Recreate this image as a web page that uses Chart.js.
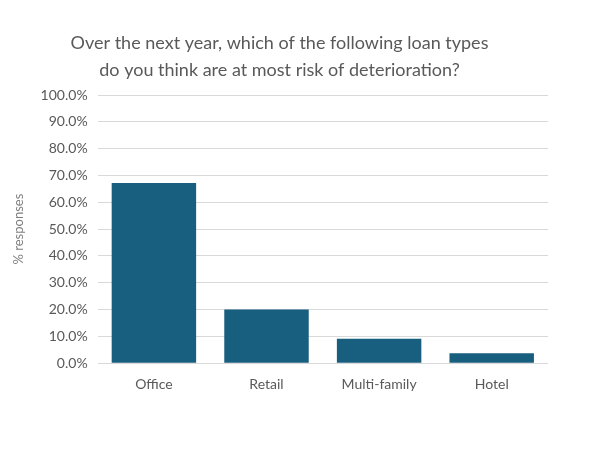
<!DOCTYPE html>
<html>
<head>
<meta charset="utf-8">
<script src="https://cdn.jsdelivr.net/npm/chart.js@4"></script>
<style>
  html, body { margin: 0; padding: 0; background: #fff; }
  #wrap { width: 600px; height: 450px; }
</style>
</head>
<body>
<div id="wrap"><canvas id="chart" width="600" height="450"></canvas></div>
<script>
const loanTypes = ['Office', 'Retail', 'Multi-family', 'Hotel'];
const responsePct = [67.2, 20.0, 9.1, 3.7];
const chartTitle = ['Over the next year, which of the following loan types', 'do you think are at most risk of deterioration?'];

const ctx = document.getElementById('chart').getContext('2d');
const chart = new Chart(ctx, {
  type: 'bar',
  data: {
    labels: loanTypes,
    datasets: [{
      label: '% responses',
      data: responsePct,
      backgroundColor: '#175e7f',
      borderWidth: 0,
      categoryPercentage: 1.0,
      barPercentage: 0.75
    }]
  },
  options: {
    responsive: false,
    animation: false,
    layout: { padding: { top: 30, right: 52, bottom: 52, left: 11 } },
    plugins: {
      legend: { display: false },
      tooltip: { enabled: false },
      title: {
        display: true,
        text: chartTitle,
        color: '#595959',
        font: { family: 'Lato', size: 18, weight: 'normal', lineHeight: 1.5 },
        padding: { top: 0, bottom: 11 }
      }
    },
    scales: {
      x: {
        grid: { display: false },
        border: { display: false },
        ticks: { color: '#595959', font: { family: 'Lato', size: 14 }, padding: 5 }
      },
      y: {
        min: 0,
        max: 100,
        ticks: {
          stepSize: 10,
          color: '#595959',
          font: { family: 'Lato', size: 14 },
          padding: 10,
          callback: v => v.toFixed(1) + '%'
        },
        grid: { color: '#d9d9d9', lineWidth: 1, drawTicks: false },
        border: { display: false },
        title: {
          display: true,
          text: '% responses',
          color: '#7f7f7f',
          font: { family: 'Lato', size: 13 },
          padding: { top: 0, bottom: 4 }
        }
      }
    }
  }
});
</script>
</body>
</html>
